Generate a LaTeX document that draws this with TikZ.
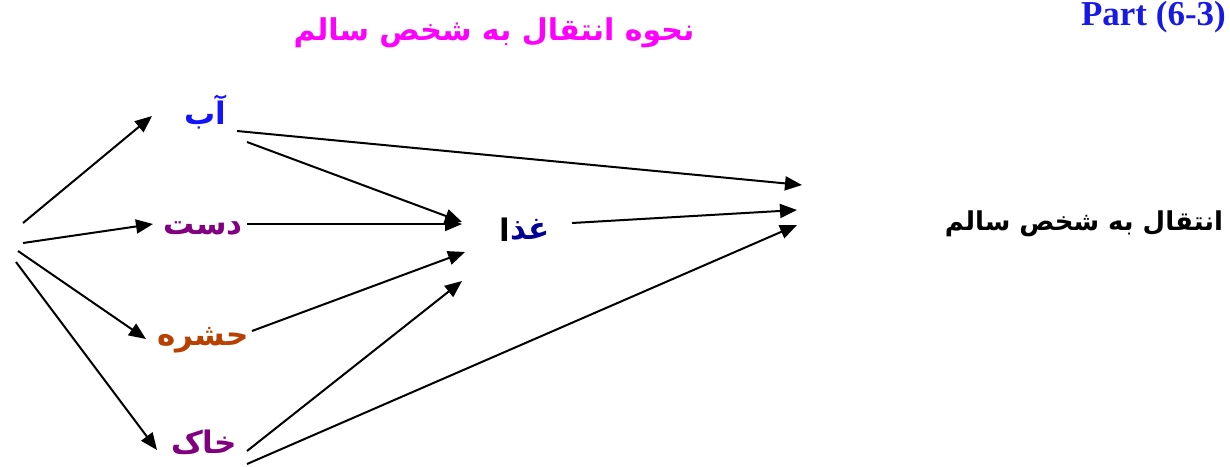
\documentclass[tikz,border=0pt]{standalone}
\usepackage{fontspec}
\usetikzlibrary{arrows.meta}
\TeXXeTstate=1
\newfontfamily\arabicfont[Script=Arabic]{DejaVu Sans}
\newfontfamily\partfont{Liberation Serif}
\definecolor{abblue}{RGB}{20,20,250}
\definecolor{dastpurple}{RGB}{128,0,128}
\definecolor{hashbrown}{RGB}{184,64,0}
\definecolor{ghazablue}{RGB}{0,0,150}
\definecolor{titlemag}{RGB}{255,0,255}
\definecolor{partblue}{RGB}{25,25,230}
\tikzset{
  lbl/.style={inner sep=0pt, font=\arabicfont\bfseries\fontsize{31}{36}\selectfont},
  arr/.style={line width=2pt, -{Triangle[length=17pt,width=14pt]}},
}
\begin{document}
\begin{tikzpicture}[x=1pt,y=-1pt]
\useasboundingbox (0,0) rectangle (1230,466);
% titles
\node[inner sep=0pt, text=titlemag, font=\arabicfont\bfseries\fontsize{30}{36}\selectfont] (title) at (494,33) {\beginR نحوه انتقال به شخص سالم\endR};
\node[inner sep=0pt, text=partblue, font=\partfont\bfseries\fontsize{35}{40}\selectfont, anchor=east] (part) at (1226,17) {Part (6-3)};
% labels
\node[lbl, text=abblue] (ab) at (205,112) {\beginR آب\endR};
\node[lbl, text=dastpurple] (dast) at (203,228) {\beginR دست\endR};
\node[lbl, text=hashbrown] (hashare) at (203,340) {\beginR حشره\endR};
\node[lbl, text=dastpurple] (khak) at (204,442) {\beginR خاک\endR};
\node[lbl, text=ghazablue, anchor=west] (ghaza) at (510,230) {\beginR غذ\endR};
\node[lbl, anchor=east] (alef) at (ghaza.west) {\beginR ا\endR};
\node[inner sep=0pt, font=\arabicfont\bfseries\fontsize{26}{30}\selectfont] (target) at (1084,224) {\beginR انتقال به شخص سالم\endR};
% coordinates
\coordinate (s1) at (23,223);
\coordinate (s2) at (23,243);
\coordinate (s3) at (18,251);
\coordinate (s4) at (16,262);
\coordinate (abin) at (152,116);
\coordinate (dastin) at (153,224);
\coordinate (hashin) at (146,339);
\coordinate (khakin) at (157,450);
\coordinate (abo1) at (237,131);
\coordinate (abo2) at (247,142);
\coordinate (dasto) at (247,224);
\coordinate (hasho) at (252,331);
\coordinate (khako1) at (247,451);
\coordinate (khako2) at (247,464);
\coordinate (gin1) at (462,222);
\coordinate (gin2) at (462,224);
\coordinate (gin3) at (465,252);
\coordinate (gin4) at (462,281);
\coordinate (gout) at (572,223);
\coordinate (t1) at (802,185);
\coordinate (t2) at (797,210);
\coordinate (t3) at (797,225);
% connectors
\draw[arr] (s1) -- (abin);
\draw[arr] (s2) -- (dastin);
\draw[arr] (s3) -- (hashin);
\draw[arr] (s4) -- (khakin);
\draw[arr] (abo1) -- (t1);
\draw[arr] (abo2) -- (gin1);
\draw[arr] (dasto) -- (gin2);
\draw[arr] (hasho) -- (gin3);
\draw[arr] (khako1) -- (gin4);
\draw[arr] (khako2) -- (t3);
\draw[arr] (gout) -- (t2);
\end{tikzpicture}
\end{document}
